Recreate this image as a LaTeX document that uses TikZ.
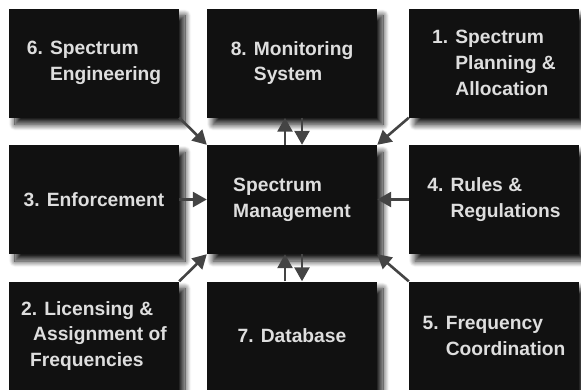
\documentclass[tikz,border=0pt]{standalone}
\usepackage{fontspec}
\setmainfont{Liberation Sans}
\usetikzlibrary{arrows.meta,shadows.blur}

\definecolor{boxblack}{HTML}{111111}
\definecolor{boxtext}{HTML}{DEDEDE}
\definecolor{arrowgray}{HTML}{444444}

\begin{document}
\begin{tikzpicture}[x=1bp,y=-1bp,
    box/.style={fill=boxblack,text=boxtext,inner sep=0pt,
      minimum width=170bp,minimum height=109bp,align=left,
      font=\fontsize{19.3}{26}\selectfont\bfseries,
      blur shadow={shadow xshift=6bp,shadow yshift=-7bp,
        shadow blur radius=6bp,shadow blur steps=16,shadow opacity=90}},
    flow/.style={draw=arrowgray,line width=2.6bp,
      -{Triangle[length=14bp,width=15bp]}}]
          \useasboundingbox (0,0) rectangle (581,389);
          %% top row
          \node[box] (eng) at (94,63)  {6. Spectrum\\\phantom{6. }Engineering};
          \node[box] (mon) at (292,63) {8. Monitoring\\\phantom{8. }System};
          \node[box] (plan) at (494,63) {1. Spectrum\\\phantom{1. }Planning \&\\\phantom{1. }Allocation};
          %% middle row
          \node[box] (enf) at (94,199.5)  {3. Enforcement};
          \node[box] (sm) at (292,199.5)  {Spectrum\\Management};
          \node[box] (rules) at (494,199.5) {4. Rules \&\\\phantom{4. }Regulations};
          %% bottom row
          \node[box] (lic) at (94,336)  {2. Licensing \&\\\hspace*{12bp}Assignment of\\\hspace*{9bp}Frequencies};
          \node[box] (db) at (292,336)  {7. Database};
          \node[box] (coord) at (494,336) {5. Frequency\\\phantom{5. }Coordination};
          %% connectors into the centre
          \draw[flow] (eng.south east) -- (sm.north west);
          \draw[flow] (plan.south west) -- (sm.north east);
          \draw[flow] (enf.east) -- (sm.west);
          \draw[flow] (rules.west) -- (sm.east);
          \draw[flow] (lic.north east) -- (sm.south west);
          \draw[flow] (coord.north west) -- (sm.south east);
          %% two-way links, monitoring and database
          \draw[flow] ([xshift=-7bp]sm.north) -- ([xshift=-7bp]mon.south);
          \draw[flow] ([xshift=10bp]mon.south) -- ([xshift=10bp]sm.north);
          \draw[flow] ([xshift=-7bp]db.north) -- ([xshift=-7bp]sm.south);
          \draw[flow] ([xshift=10bp]sm.south) -- ([xshift=10bp]db.north);
\end{tikzpicture}
\end{document}
